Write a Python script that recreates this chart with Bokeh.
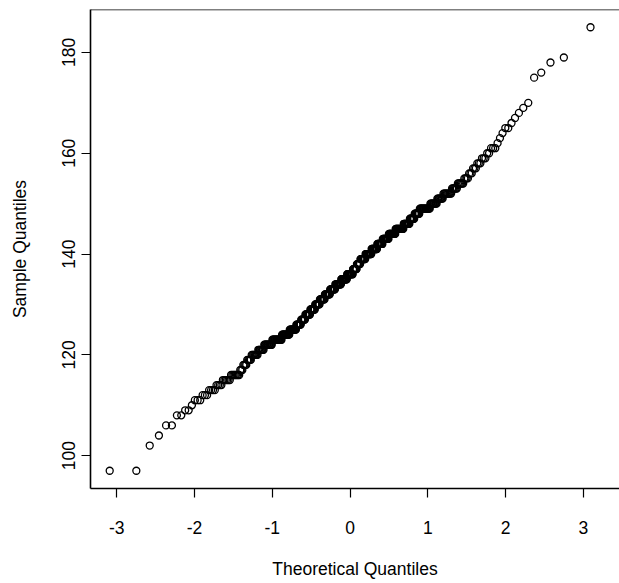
from statistics import NormalDist
import numpy as np
from bokeh.plotting import figure
from bokeh.models import Span, FixedTicker, ColumnDataSource
from bokeh.embed import file_html
from bokeh.resources import INLINE

# Sample values (integers) and how many observations take each value
sample_values = [97, 102, 104, 106, 108, 109, 110, 111, 112, 113, 114, 115, 116,
                 117, 118, 119, 120, 121, 122, 123, 124, 125, 126, 127, 128, 129,
                 130, 131, 132, 133, 134, 135, 136, 137, 138, 139, 140, 141, 142,
                 143, 144, 145, 146, 147, 148, 149, 150, 151, 152, 153, 154, 155,
                 156, 157, 158, 159, 160, 161, 162, 163, 164, 165, 166, 167, 168,
                 169, 170, 175, 176, 178, 179, 185]
sample_counts = [2, 1, 1, 2, 2, 2, 1, 3, 3, 4, 4, 6, 8,
                 3, 4, 5, 8, 8, 12, 16, 14, 13, 10, 9, 11, 11,
                 11, 12, 13, 13, 15, 15, 15, 10, 9, 13, 15, 14, 13,
                 14, 15, 17, 12, 9, 9, 17, 10, 8, 10, 6, 6, 4,
                 3, 3, 3, 3, 2, 3, 1, 1, 1, 2, 1, 1, 1,
                 1, 1, 1, 1, 1, 1, 1]

x_ticks = [-3, -2, -1, 0, 1, 2, 3]
x_tick_labels = ["-3", "-2", "-1", "0", "1", "2", "3"]
y_ticks = [100, 120, 140, 160, 180]
y_tick_labels = ["100", "120", "140", "160", "180"]

sample = np.repeat(sample_values, sample_counts)
n = len(sample)
probs = (np.arange(1, n + 1) - 0.5) / n
theoretical = [NormalDist().inv_cdf(float(pp)) for pp in probs]

src = ColumnDataSource(dict(x=theoretical, y=sample))

FONT = "Liberation Sans"
FS = "17.5px"

p = figure(width=619, height=583, output_backend="svg", toolbar_location=None,
           x_range=(-3.337, 3.463), y_range=(93.48, 188.52),
           min_border_left=90, min_border_right=0, min_border_top=9,
           min_border_bottom=95)
p.outline_line_color = None
p.background_fill_color = "white"
p.border_fill_color = "white"
p.xgrid.visible = False
p.ygrid.visible = False

p.scatter("x", "y", source=src, marker="circle", size=7, fill_color=None,
          line_color="black", line_width=1.3)

for ax in (p.xaxis, p.yaxis):
    ax.axis_line_color = "black"
    ax.axis_line_width = 1.6
    ax.major_tick_line_color = "black"
    ax.major_tick_line_width = 1.2
    ax.major_tick_out = 9
    ax.major_tick_in = 0
    ax.minor_tick_line_color = None
    ax.major_label_text_font = FONT
    ax.major_label_text_font_size = FS
    ax.major_label_text_color = "black"
    ax.axis_label_text_font = FONT
    ax.axis_label_text_font_size = FS
    ax.axis_label_text_font_style = "normal"
    ax.axis_label_text_color = "black"

p.xaxis.ticker = FixedTicker(ticks=x_ticks)
p.yaxis.ticker = FixedTicker(ticks=y_ticks)
p.xaxis.major_label_overrides = {t: s for t, s in zip(x_ticks, x_tick_labels)}
p.yaxis.major_label_overrides = {t: s for t, s in zip(y_ticks, y_tick_labels)}
p.xaxis.axis_label = "Theoretical Quantiles"
p.yaxis.axis_label = "Sample Quantiles"
p.yaxis.major_label_orientation = "vertical"
p.xaxis.major_label_standoff = 23
p.xaxis.axis_label_standoff = 22
p.yaxis.major_label_standoff = 6
p.yaxis.axis_label_standoff = 30

top = Span(location=188.52, dimension="width", line_color="black", line_width=1.6)
p.add_layout(top)

open("out.html", "w").write(file_html(p, INLINE))
